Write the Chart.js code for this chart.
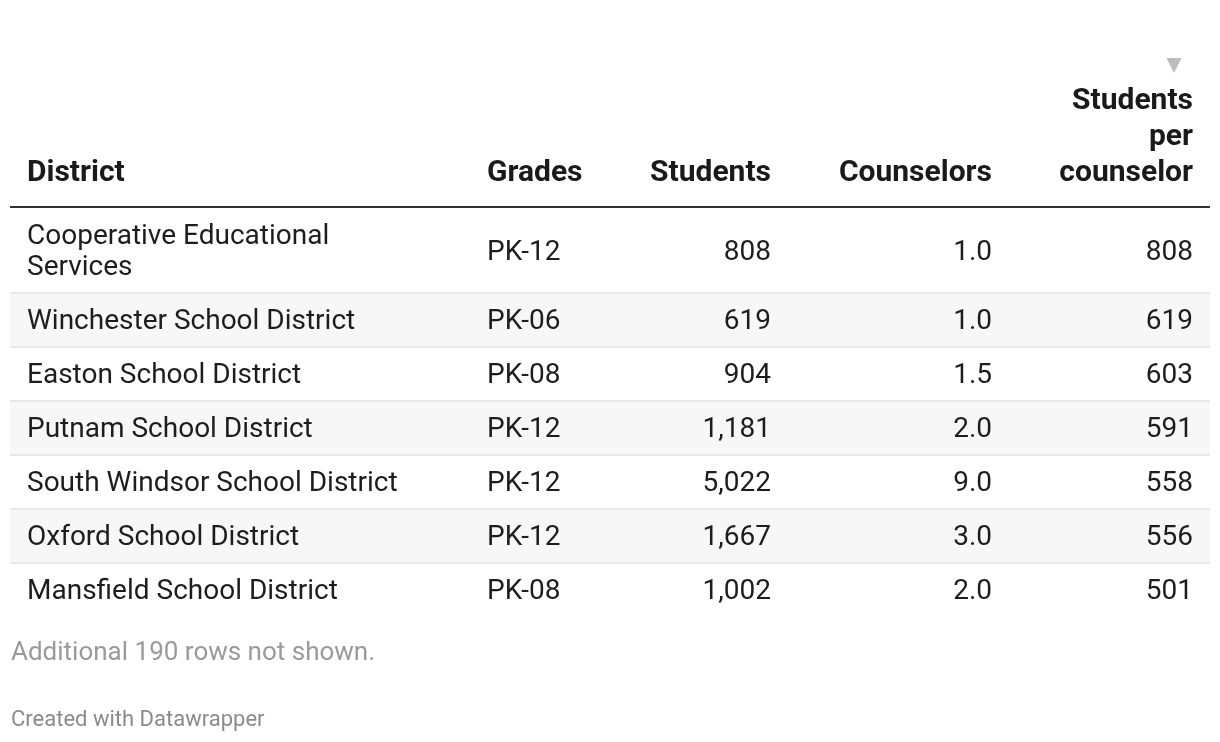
<!DOCTYPE html>
<html>
<head>
<meta charset="utf-8">
<script src="https://cdn.jsdelivr.net/npm/chart.js@4.4.1/dist/chart.umd.min.js"></script>
<style>
    html, body { margin: 0; padding: 0; background: #fff; }
    #wrap { position: relative; width: 1220px; height: 742px; }
    #chartBox { position: absolute; left: 0; top: 0; width: 1220px; height: 742px; }
    .note { position: absolute; left: 11px; font-family: Roboto, sans-serif; white-space: nowrap; }
    #more { top: 636px; font-size: 26px; line-height: 30px; color: #9a9a9a; }
    #credit { top: 706px; font-size: 22px; line-height: 26px; color: #8a8a8a; }
</style>
</head>
<body>
<div id="wrap">
    <div id="chartBox"><canvas id="counselorTable"></canvas></div>
    <div id="more" class="note"></div>
    <div id="credit" class="note">Created with Datawrapper</div>
</div>
<script>
// Table data
const headers = ['District', 'Grades', 'Students', 'Counselors', 'Students per counselor'];
const districts = [
    'Cooperative Educational Services',
    'Winchester School District',
    'Easton School District',
    'Putnam School District',
    'South Windsor School District',
    'Oxford School District',
    'Mansfield School District'
];
const grades = ['PK-12', 'PK-06', 'PK-08', 'PK-12', 'PK-12', 'PK-12', 'PK-08'];
const students = [808, 619, 904, 1181, 5022, 1667, 1002];
const counselors = [1.0, 1.0, 1.5, 2.0, 9.0, 3.0, 2.0];
const perCounselor = [808, 619, 603, 591, 558, 556, 501];
const hiddenRows = 190;

// Layout (table units = px from the table's left edge)
const colAnchor = [17, 477, 761, 982, 1183];
const colAlign = ['left', 'left', 'right', 'right', 'right'];
const colWrap = [390, 220, 220, 220, 160];
const sortedCol = 4;
const BODY_FONT = '28px Roboto, sans-serif';
const HEAD_FONT = 'bold 30px Roboto, sans-serif';
const LINE_H = 31;
const HEAD_LINE_H = 36;
const ROW_PAD = 23;

document.getElementById('more').textContent = `Additional ${hiddenRows} rows not shown.`;

function wrapText(ctx, text, maxW) {
    const words = String(text).split(' ');
    const out = [];
    let cur = '';
    words.forEach(w => {
        const t = cur ? cur + ' ' + w : w;
        if (cur && ctx.measureText(t).width > maxW) {
            out.push(cur);
            cur = w;
        } else {
            cur = t;
        }
    });
    out.push(cur);
    return out;
}

// Cell texts per column
const columns = [
    districts,
    grades,
    students.map(v => v.toLocaleString('en-US')),
    counselors.map(v => v.toFixed(1)),
    perCounselor.map(v => v.toLocaleString('en-US'))
];

// Measure wrapping to get row heights
const measureCtx = document.createElement('canvas').getContext('2d');
measureCtx.font = BODY_FONT;
const cellLines = columns.map((col, c) => col.map(t => wrapText(measureCtx, t, colWrap[c])));
const rowHeights = districts.map((_, i) =>
    ROW_PAD + LINE_H * Math.max(...cellLines.map(col => col[i].length)));
const rowTops = [];
rowHeights.reduce((acc, h) => { rowTops.push(acc); return acc + h; }, 0);
const totalHeight = rowHeights.reduce((a, b) => a + b, 0);
measureCtx.font = HEAD_FONT;
const headerLines = headers.map((h, c) => wrapText(measureCtx, h, colWrap[c]));

const tableCellsPlugin = {
    id: 'tableCells',
    beforeDatasetsDraw(chart) {
        const { ctx, chartArea: { left, right, top }, scales: { x, y } } = chart;
        ctx.save();

        // zebra stripes + row rules
        rowTops.forEach((t, i) => {
            const y0 = y.getPixelForValue(t);
            const y1 = y.getPixelForValue(t + rowHeights[i]);
            if (i % 2 === 1) {
                ctx.fillStyle = '#f7f7f7';
                ctx.fillRect(left, y0, right - left, y1 - y0);
            }
            if (i > 0) {
                ctx.fillStyle = '#e8e8e8';
                ctx.fillRect(left, y0 - 1, right - left, 2);
            }
        });

        // header rule
        ctx.fillStyle = '#333333';
        ctx.fillRect(left, top - 2, right - left, 2);

        // header texts, bottom aligned
        ctx.font = HEAD_FONT;
        ctx.fillStyle = '#1a1a1a';
        ctx.textBaseline = 'alphabetic';
        headerLines.forEach((lines, c) => {
            const px = x.getPixelForValue(colAnchor[c]);
            ctx.textAlign = colAlign[c];
            lines.forEach((ln, k) => {
                const by = top - 27 - (lines.length - 1 - k) * HEAD_LINE_H;
                ctx.fillText(ln, px, by);
            });
            if (c === sortedCol) {
                // sort marker
                const cx = px - 19;
                const ty = top - 27 - (lines.length - 1) * HEAD_LINE_H - 51;
                ctx.fillStyle = '#bdbdbd';
                ctx.beginPath();
                ctx.moveTo(cx - 7.5, ty);
                ctx.lineTo(cx + 7.5, ty);
                ctx.lineTo(cx, ty + 15);
                ctx.closePath();
                ctx.fill();
                ctx.fillStyle = '#1a1a1a';
            }
        });
        ctx.restore();
    },
    afterDatasetsDraw(chart) {
        const { ctx } = chart;
        ctx.save();
        ctx.font = BODY_FONT;
        ctx.fillStyle = '#1d1d1d';
        ctx.textBaseline = 'middle';
        chart.data.datasets.forEach((ds, c) => {
            ctx.textAlign = colAlign[c];
            chart.getDatasetMeta(c).data.forEach((pt, i) => {
                const lines = ds.cellLines[i];
                lines.forEach((ln, k) => {
                    ctx.fillText(ln, pt.x, pt.y + 2 + (k - (lines.length - 1) / 2) * LINE_H);
                });
            });
        });
        ctx.restore();
    }
};

new Chart(document.getElementById('counselorTable'), {
    type: 'scatter',
    data: {
        datasets: columns.map((col, c) => ({
            label: headers[c],
            data: col.map((_, i) => ({ x: colAnchor[c], y: rowTops[i] + rowHeights[i] / 2 })),
            cellLines: cellLines[c],
            pointRadius: 0,
            pointHoverRadius: 0
        }))
    },
    plugins: [tableCellsPlugin],
    options: {
        responsive: true,
        maintainAspectRatio: false,
        animation: false,
        events: [],
        layout: { padding: { top: 208, bottom: 125, left: 10, right: 10 } },
        plugins: { legend: { display: false }, tooltip: { enabled: false } },
        scales: {
            x: { type: 'linear', min: 0, max: 1200, display: false },
            y: { type: 'linear', min: 0, max: totalHeight, reverse: true, display: false }
        }
    }
});
</script>
</body>
</html>
